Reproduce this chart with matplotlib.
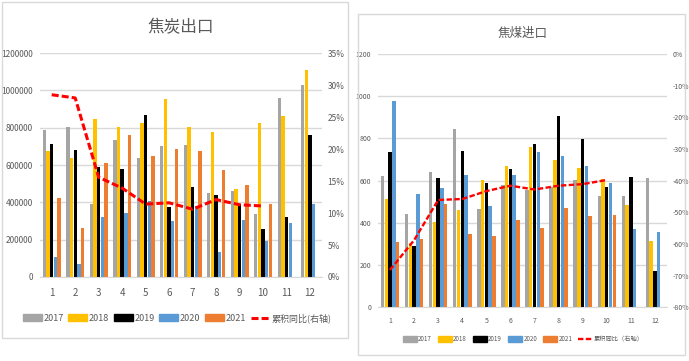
import numpy as np
import matplotlib
matplotlib.use("Agg")
import matplotlib.pyplot as plt
from matplotlib.patches import Rectangle, Patch
from matplotlib.lines import Line2D
from matplotlib.ticker import FuncFormatter

plt.rcParams['font.family'] = ['Liberation Sans Narrow', 'Noto Sans CJK SC', 'DejaVu Sans']

months = list(range(1, 13))
years = ['2017', '2018', '2019', '2020', '2021']
colors = ['#A5A5A5', '#FFC000', '#000000', '#5B9BD5', '#ED7D31']
nan = np.nan

# 焦炭出口 (tons)
coke_2017 = [790000, 805000, 390000, 735000, 640000, 700000, 710000, 452000, 462000, 336000, 960000, 1030000]
coke_2018 = [678000, 640000, 845000, 805000, 825000, 952000, 805000, 777000, 471000, 827000, 864000, 1110000]
coke_2019 = [711000, 683000, 591000, 577000, 871000, 377000, 481000, 438000, 389000, 255000, 320000, 759000]
coke_2020 = [105000, 70000, 320000, 341000, 409000, 302000, 380000, 134000, 305000, 194000, 288000, 389000]
coke_2021 = [421000, 261000, 609000, 759000, 648000, 687000, 677000, 573000, 494000, 389000, nan, nan]
coke_yoy = [28.5, 28.0, 15.6, 13.9, 11.4, 11.6, 10.6, 12.1, 11.3, 11.1]

# 焦煤进口 (10k tons)
cc_2017 = [622, 442, 639, 845, 464, 580, 556, 571, 603, 527, 527, 611]
cc_2018 = [512, 306, 403, 461, 603, 669, 761, 698, 658, 606, 485, 314]
cc_2019 = [734, 290, 611, 742, 587, 655, 774, 906, 796, 568, 619, 172]
cc_2020 = [977, 535, 564, 625, 480, 625, 736, 718, 669, 590, 371, 358]
cc_2021 = [311, 322, 489, 347, 338, 413, 374, 469, 434, 437, nan, nan]
cc_yoy = [-68.2, -58.8, -46.1, -45.8, -43.3, -41.6, -42.8, -41.6, -41.1, -39.8]

line_label = '累积同比(右轴)'
line_label2 = '累积同比（右轴）'

fig = plt.figure(figsize=(6.89, 3.61), dpi=100)

# chart frames
fig.patches.append(Rectangle((0.003, 0.064), 0.502, 0.931, transform=fig.transFigure,
                             fill=False, edgecolor='#D9D9D9', lw=1))
fig.patches.append(Rectangle((0.5196, 0.017), 0.4746, 0.9446, transform=fig.transFigure,
                             fill=False, edgecolor='#D9D9D9', lw=1))


def draw(ax, series, yoy, ylim, yticks, rlim, rticks, fs, yfs, lw, title, tfs, tpad, xpad):
    x = np.array(months)
    w = 0.156
    for k, (vals, c) in enumerate(zip(series, colors)):
        ax.bar(x + (k - 2) * w, vals, width=w * 0.92, color=c, zorder=2)
    ax.set_xlim(0.5, 12.5)
    ax.set_ylim(*ylim)
    ax.set_yticks(yticks)
    ax.yaxis.set_major_formatter(FuncFormatter(lambda v, p: f'{v:.0f}'))
    ax.set_xticks(months)
    ax.grid(axis='y', color='#D9D9D9', lw=1, zorder=0)
    ax.set_axisbelow(True)
    for s in ['top', 'left', 'right']:
        ax.spines[s].set_visible(False)
    ax.spines['bottom'].set_color('#D9D9D9')
    ax.tick_params(axis='y', length=0, labelsize=yfs, colors='#595959', pad=5)
    ax.tick_params(axis='x', length=0, labelsize=fs, colors='#595959', pad=xpad)
    ax2 = ax.twinx()
    ax2.plot(months[:len(yoy)], yoy, color='#FF0000', lw=lw, ls=(0, (2.3, 1.0)), zorder=3)
    ax2.set_ylim(*rlim)
    ax2.set_yticks(rticks)
    ax2.yaxis.set_major_formatter(FuncFormatter(lambda v, p: f'{v:.0f}%'))
    for s in ax2.spines.values():
        s.set_visible(False)
    ax2.tick_params(length=0, labelsize=yfs, colors='#595959', pad=4)
    ax.set_title(title, fontsize=tfs, color='#595959', pad=tpad)
    return ax2


ax1 = fig.add_axes([0.058, 0.2327, 0.409, 0.620])
draw(ax1, [coke_2017, coke_2018, coke_2019, coke_2020, coke_2021], coke_yoy,
     (0, 1200000), range(0, 1200001, 200000), (0, 35), range(0, 36, 5), 7, 6, 2.2,
     '焦炭出口', 12, 15, 8)

ax3 = fig.add_axes([0.5486, 0.1488, 0.4194, 0.7016])
draw(ax3, [cc_2017, cc_2018, cc_2019, cc_2020, cc_2021], cc_yoy,
     (0, 1200), range(0, 1201, 200), (-80, 0), range(-80, 1, 10), 5, 5, 1.7,
     '焦煤进口', 9, 12, 7)

h1 = [Patch(color=c) for c in colors] + [Line2D([], [], color='#FF0000', lw=2.2, ls=(0, (2.3, 1.0)))]
fig.legend(h1, years + [line_label], loc='center', bbox_to_anchor=(177 / 689, 1 - 318 / 361),
           ncol=6, frameon=False, fontsize=6.5, handlelength=2.1, handleheight=0.75,
           columnspacing=0.5, handletextpad=0.2, labelcolor='#595959')

h2 = [Patch(color=c) for c in colors] + [Line2D([], [], color='#FF0000', lw=1.7, ls=(0, (2.3, 1.0)))]
fig.legend(h2, years + [line_label2], loc='center', bbox_to_anchor=(523 / 689, 1 - 339 / 361),
           ncol=6, frameon=False, fontsize=4.5, handlelength=2.3, handleheight=1.0,
           columnspacing=0.9, handletextpad=0.2, labelcolor='#595959')

fig.savefig('out.png', dpi=100)
